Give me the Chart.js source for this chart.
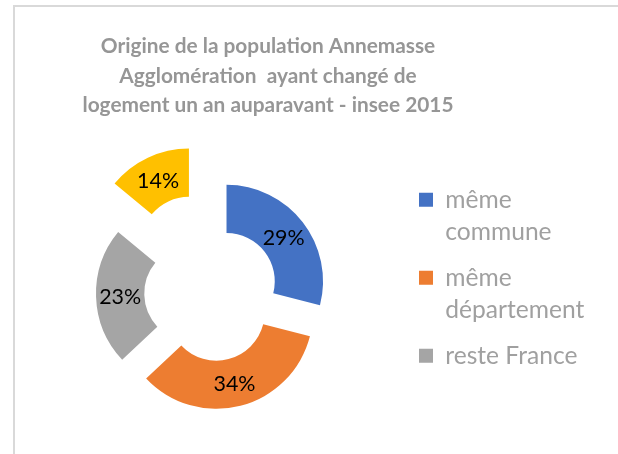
<!DOCTYPE html>
<html>
<head>
<meta charset="utf-8">
<script src="https://cdn.jsdelivr.net/npm/chart.js@4.4.1/dist/chart.umd.min.js"></script>
<style>
html, body { margin: 0; padding: 0; background: #fff; }
#cadre { position: absolute; left: 13px; top: 5px; width: 605px; height: 449px; border-left: 2px solid #d9d9d9; border-top: 2px solid #d9d9d9; box-sizing: border-box; }
#zone { position: absolute; left: 0; top: 0; width: 618px; height: 454px; }
</style>
</head>
<body>
<div id="cadre"></div>
<div id="zone"><canvas id="chartResult" width="618" height="454"></canvas></div>
<script>
// donnees
var categories = [['même', 'commune'], ['même', 'département'], ['reste France'], 'étranger'];
var valeurs = [29, 34, 23, 14];
var couleurs = ['#4472c4', '#ed7d31', '#a5a5a5', '#ffc000'];
var titre = ['Origine de la population Annemasse', 'Agglomération  ayant changé de', 'logement un an auparavant - insee 2015'];

// taille de police pour retrouver la largeur du texte d'origine
function tailleAjustee(texte, poids, largeur) {
    var c = document.createElement('canvas').getContext('2d');
    c.font = poids + ' 100px Lato';
    return 100 * largeur / c.measureText(texte).width;
}
var tailleTitre = tailleAjustee(titre[2], 'bold', 371);
var tailleLegende = tailleAjustee('département', 'normal', 139);
var tailleEtiquette = tailleAjustee('29%', 'normal', 42);

// secteurs eclates : on decale chaque arc le long de sa bissectrice
class DonutEclate extends Chart.DoughnutController {
    draw() {
        var ctx = this.chart.ctx;
        var ecarts = this.getDataset().ecart || [];
        this._cachedMeta.data.forEach(function (arc, i) {
            var milieu = (arc.startAngle + arc.endAngle) / 2;
            var d = ecarts[i] || 0;
            ctx.save();
            ctx.translate(Math.cos(milieu) * d, Math.sin(milieu) * d);
            arc.draw(ctx);
            ctx.restore();
        });
    }
}
DonutEclate.id = 'donutEclate';
DonutEclate.defaults = Chart.DoughnutController.defaults;
DonutEclate.overrides = Chart.DoughnutController.overrides;
Chart.register(DonutEclate);

var etiquettesPlugin = {
    id: 'etiquettes',
    afterLayout: function (chart) {
        // la legende deborde de sa boite (maxWidth), on elargit la zone de decoupe
        chart.legend.right = chart.width;
    },
    afterDatasetsDraw: function (chart) {
        var ctx = chart.ctx;
        var ds = chart.data.datasets[0];
        var meta = chart.getDatasetMeta(0);
        ctx.save();
        ctx.font = tailleEtiquette + 'px Lato';
        ctx.fillStyle = '#000';
        ctx.textAlign = 'center';
        ctx.textBaseline = 'middle';
        meta.data.forEach(function (arc, i) {
            var p = arc.tooltipPosition();
            var milieu = (arc.startAngle + arc.endAngle) / 2;
            var d = ds.ecart[i] || 0;
            ctx.fillText(ds.data[i] + '%', p.x + Math.cos(milieu) * d, p.y + Math.sin(milieu) * d + 1.5);
        });
        ctx.restore();
    }
};

var canvasShow = document.getElementById('chartResult');

var mainChart = new Chart(canvasShow, {
    type: 'donutEclate',
    data: {
        labels: categories,
        datasets: [{
            data: valeurs,
            backgroundColor: couleurs,
            borderWidth: 0,
            ecart: [19, 20, 19, 53],
            clip: false
        }]
    },
    plugins: [etiquettesPlugin],
    options: {
        responsive: false,
        animation: false,
        devicePixelRatio: 1,
        cutout: '50%',
        layout: {
            padding: { left: 18, right: 100, top: 0, bottom: 64.5 }
        },
        plugins: {
            tooltip: { enabled: false },
            title: {
                display: true,
                text: titre,
                color: '#969696',
                font: { family: 'Lato', weight: 'bold', size: tailleTitre, lineHeight: '29.5px' },
                padding: { top: 32, bottom: 76 }
            },
            legend: {
                position: 'right',
                align: 'end',
                maxWidth: 113,
                labels: {
                    boxWidth: 14,
                    boxHeight: 14,
                    padding: 14,
                    color: '#a0a0a0',
                    font: { family: 'Lato', size: tailleLegende, lineHeight: '32px' },
                    filter: function (item) { return item.index < 3; }
                }
            }
        }
    }
});
</script>
</body>
</html>
